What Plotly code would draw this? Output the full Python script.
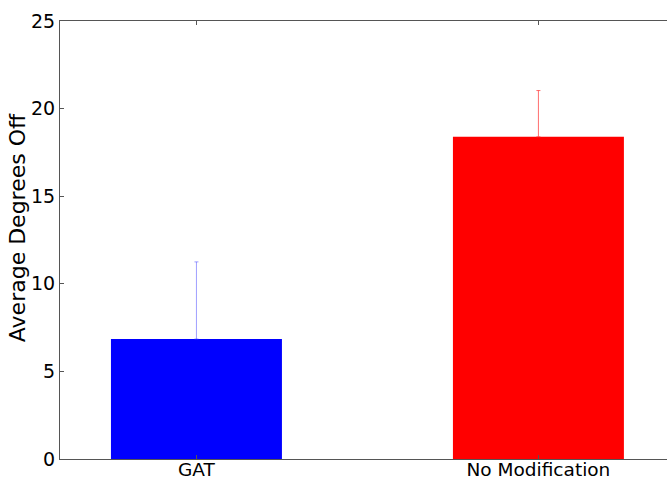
import plotly.graph_objects as go

categories = ["GAT", "No Modification"]
means = [6.85, 18.39]
errors = [4.40, 2.64]
bar_colors = ["#0000ff", "#ff0000"]
err_colors = ["rgba(80,80,255,0.55)", "rgba(255,60,60,0.75)"]
y_ticks = [0, 5, 10, 15, 20, 25]

fig = go.Figure()
for i, (cat, m, e) in enumerate(zip(categories, means, errors)):
    fig.add_trace(go.Bar(
        x=[i], y=[m], width=0.5,
        marker=dict(color=bar_colors[i], line=dict(width=0)),
        error_y=dict(type="data", array=[e], arrayminus=[0], symmetric=False,
                     color=err_colors[i], thickness=1, width=2),
        showlegend=False,
    ))

font = dict(family="DejaVu Sans", size=19, color="black")
fig.update_layout(
    width=667, height=479,
    margin=dict(l=60, r=0, t=21, b=20),
    paper_bgcolor="white", plot_bgcolor="white",
    font=font,
    xaxis=dict(
        range=[-0.399, 1.376], tickvals=[0, 1], ticktext=categories,
        showline=True, linecolor="#555", linewidth=1, mirror="ticks",
        ticks="inside", ticklen=4, tickcolor="#555",
        showgrid=False, zeroline=False, automargin=False,
        tickfont=dict(family="DejaVu Sans", size=18.5, color="black"),
        ticklabelstandoff=-6,
    ),
    yaxis=dict(
        range=[0, 25], tickvals=y_ticks,
        showline=True, linecolor="#555", linewidth=1,
        ticks="inside", ticklen=4, tickcolor="#555",
        showgrid=False, zeroline=False, automargin=False,
        tickfont=font,
    ),
)

# y-axis label placed as a rotated annotation
fig.add_annotation(
    text="Average Degrees Off", textangle=-90,
    xref="paper", yref="paper", x=-43 / 607, y=0.527,
    xanchor="center", yanchor="middle", showarrow=False,
    font=dict(family="DejaVu Sans", size=22, color="black"),
)

fig.write_html("out.html")
